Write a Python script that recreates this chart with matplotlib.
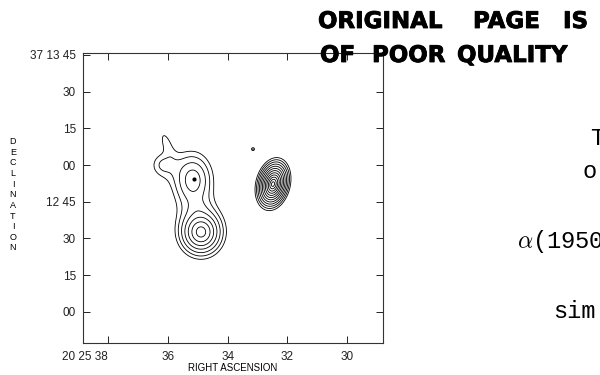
import numpy as np
import matplotlib.pyplot as plt
import matplotlib.patheffects as pe

plt.rcParams['font.family'] = ['Liberation Sans', 'DejaVu Sans']
plt.rcParams['mathtext.fontset'] = 'cm'

# emission components: RA (s past 20 25), Dec (arcsec past 37 12 00),
# peak brightness, widths across / along (arcsec), tilt of long axis (deg), core softening
comp_ra = [32.48, 34.89, 35.16, 35.02, 36.06, 36.16, 33.15]
comp_dec = [52.2, 32.6, 53.9, 42.8, 69.4, 60.0, 66.5]
comp_peak = [146.5, 36.9, 18.8, 2.0, 3.1, 4.0, 1.8]
comp_wx = [1.39, 2.9, 3.19, 2.86, 1.23, 3.27, 1.0]
comp_wy = [2.21, 3.2, 4.5, 2.86, 3.27, 3.27, 1.0]
comp_tilt = [13, 0, 0, 0, -20, 0, 0]
comp_core = [0.3, 1.0, 1.5, 1.0, 1.0, 1.0, 0.1]

contour_levels = [1.0, 1.5, 2.25, 3.38, 5.06, 7.59, 11.4, 17.1, 25.6, 38.4, 57.7, 86.5, 130.0]

# optical position
opt_ra = [35.12]
opt_dec = [54.3]

ra_ticks = [38, 36, 34, 32, 30]
ra_labels = ['20 25 38', '36', '34', '32', '30']
dec_ticks = [0, 15, 30, 45, 60, 75, 90, 105]
dec_labels = ['00', '15', '30', '12 45', '00', '15', '30', '37 13 45']

# seconds of RA -> arcsec on the sky at this declination
ra_scale = 15 * np.cos(np.radians(37.2))

ra = np.linspace(28.7, 38.9, 900)
dec = np.linspace(-13, 106, 900)
RA, DEC = np.meshgrid(ra, dec)

field = np.zeros_like(RA)
for r0, d0, pk, wx, wy, tl, cr in zip(comp_ra, comp_dec, comp_peak, comp_wx,
                                       comp_wy, comp_tilt, comp_core):
    dx = (r0 - RA) * ra_scale
    dy = DEC - d0
    t = np.radians(tl)
    u = dx * np.cos(t) - dy * np.sin(t)
    v = dx * np.sin(t) + dy * np.cos(t)
    d = np.sqrt((u / wx) ** 2 + (v / wy) ** 2 + cr ** 2)
    field += pk * np.exp(-d)

fig = plt.figure(figsize=(6, 3.75), dpi=100)
ax = fig.add_axes([0.1383, 0.0853, 0.5, 0.7733])

ax.contour(RA, DEC, field, levels=contour_levels, colors='black', linewidths=0.6)
ax.plot(opt_ra, opt_dec, 'o', color='black', ms=2)

ax.set_xlim(38.84, 28.8)
ax.set_ylim(-12.74, 105.77)
ax.set_xticks(ra_ticks, ra_labels)
ax.set_yticks(dec_ticks, dec_labels)
ax.get_xticklabels()[0].set_ha('right')
ax.tick_params(direction='in', length=5, width=0.7, top=True, right=True,
               labelsize=8.5, colors='#222222')
ax.tick_params(axis='x', pad=6)
ax.tick_params(axis='y', pad=5)
for sp in ax.spines.values():
    sp.set_linewidth(0.8)
    sp.set_color('#333333')
ax.set_xlabel('RIGHT ASCENSION', fontsize=7, labelpad=0)

for i, ch in enumerate('DECLINATION'):
    fig.text(13 / 600, 1 - (141.5 + i * 10.65) / 375, ch,
             ha='center', va='center', fontsize=6.5)

# stamp
stamp = [('ORIGINAL', 318, 28), ('PAGE', 473, 28), ('IS', 563, 28),
         ('OF', 320, 62), ('POOR', 372, 62), ('QUALITY', 457, 62)]
for word, x, y in stamp:
    fig.text(x / 600, 1 - y / 375, word, family='DejaVu Sans', weight='bold',
             fontsize=16.5, va='baseline', ha='left', color='black',
             path_effects=[pe.withStroke(linewidth=0.6, foreground='black')])

# typed caption at the right
caption = [('T', 590, 145), ('o', 582, 178), (r'$\alpha$(1950', 517, 248), ('sim', 553, 318)]
for s, x, y in caption:
    fig.text(x / 600, 1 - y / 375, s, family='Liberation Mono', fontsize=17,
             va='baseline', ha='left')

fig.savefig('out.png', dpi=100)
